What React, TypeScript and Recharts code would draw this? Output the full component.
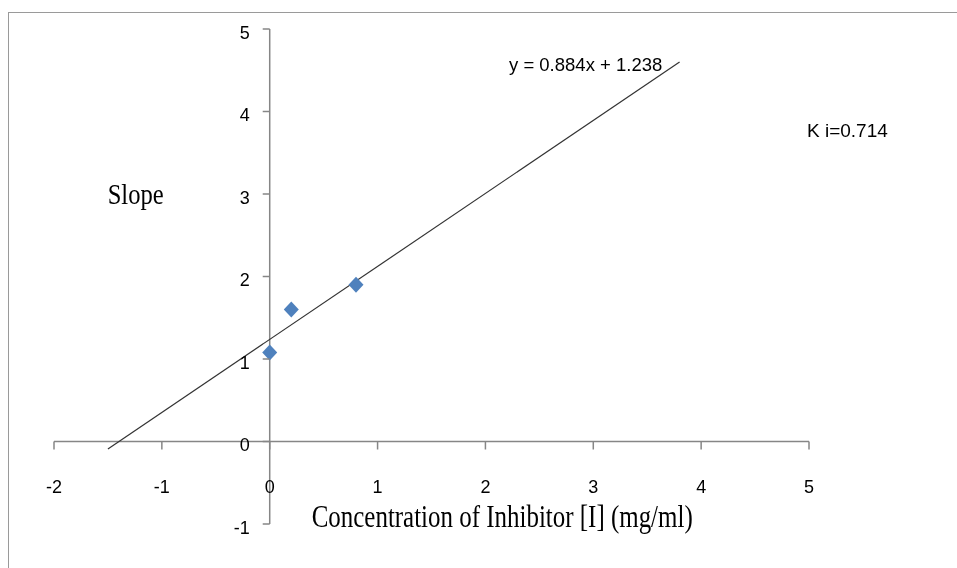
import { ScatterChart, Scatter, XAxis, YAxis, ReferenceLine } from 'recharts';

// axis ticks
const xTicks = [-2, -1, 0, 1, 2, 3, 4, 5];
const yTicks = [-1, 0, 1, 2, 3, 4, 5];

// measured points: inhibitor concentration vs slope
const concentration = [0, 0.2, 0.8];
const slopeValues = [1.08, 1.6, 1.9];

// linear trend line end points
const trendX = [-1.5, 3.8];
const trendY = [-0.09, 4.6];

const equationText = 'y = 0.884x + 1.238';
const kiText = 'K i=0.714';
const yTitle = 'Slope';
const xTitle = 'Concentration of Inhibitor [I] (mg/ml)';

const W = 941;
const H = 552;
const AXIS_W = 30;
const AXIS_H = 30;
// plot area: left 46, top 21, right 801, bottom 516
const M = { top: 21, right: W - 801, bottom: H - 516 - AXIS_H, left: 46 - AXIS_W };
const X_MIN = -2;
const X_MAX = 5;
const Y_MIN = -1;
const Y_MAX = 5;

const plotLeft = M.left + AXIS_W;
const plotTop = M.top;
const plotW = W - plotLeft - M.right;
const plotH = H - M.top - M.bottom - AXIS_H;
// where the axes cross (x = 0, y = 0)
const zeroX = plotLeft + ((0 - X_MIN) / (X_MAX - X_MIN)) * plotW;
const zeroY = plotTop + ((Y_MAX - 0) / (Y_MAX - Y_MIN)) * plotH;

const data = concentration.map((x, i) => ({ x, y: slopeValues[i] }));

const AXIS_COLOR = '#868686';
const TICK_FONT = '"Liberation Sans", Arial, sans-serif';
const NOTE_FONT = '"Liberation Sans", Arial, sans-serif';
const SERIF = '"Liberation Serif", "Times New Roman", serif';

const XTick = (props: any) => {
    const { x, payload } = props;
    return (
        <g>
            <line x1={x} x2={x} y1={zeroY} y2={zeroY + 8} stroke={AXIS_COLOR} strokeWidth={1.5} />
            <text
                x={x}
                y={zeroY + 45}
                textAnchor="middle"
                dominantBaseline="central"
                fontSize={18}
                fontFamily={TICK_FONT}
                fill="#000"
            >
                {payload.value}
            </text>
        </g>
    );
};

const YTick = (props: any) => {
    const { y, payload } = props;
    return (
        <g>
            <line x1={zeroX - 7} x2={zeroX} y1={y} y2={y} stroke={AXIS_COLOR} strokeWidth={1.5} />
            <text
                x={zeroX - 20}
                y={y + 3.5}
                textAnchor="end"
                dominantBaseline="central"
                fontSize={18}
                fontFamily={TICK_FONT}
                fill="#000"
            >
                {payload.value}
            </text>
        </g>
    );
};

const Diamond = (props: any) => {
    const { cx, cy } = props;
    const r = 8;
    return (
        <polygon
            points={`${cx},${cy - r} ${cx + r - 0.5},${cy} ${cx},${cy + r} ${cx - r + 0.5},${cy}`}
            fill="#4F81BD"
        />
    );
};

export default function App() {
    return (
        <div style={{ position: 'relative', width: W, height: H }}>
            {/* outer frame, open on the right and bottom */}
            <div
                style={{
                    position: 'fixed',
                    left: 8,
                    top: 12,
                    right: -20,
                    bottom: -20,
                    borderTop: '1px solid #9a9a9a',
                    borderLeft: '1px solid #9a9a9a',
                    pointerEvents: 'none',
                }}
            />
            <ScatterChart width={W} height={H} margin={M}>
                <XAxis
                    type="number"
                    dataKey="x"
                    domain={[X_MIN, X_MAX]}
                    ticks={xTicks}
                    allowDataOverflow
                    height={AXIS_H}
                    axisLine={false}
                    tickLine={false}
                    interval={0}
                    tick={(p: any) => <XTick {...p} />}
                />
                <YAxis
                    type="number"
                    dataKey="y"
                    domain={[Y_MIN, Y_MAX]}
                    ticks={yTicks}
                    allowDataOverflow
                    width={AXIS_W}
                    axisLine={false}
                    tickLine={false}
                    interval={0}
                    tick={(p: any) => <YTick {...p} />}
                />
                <ReferenceLine y={0} stroke={AXIS_COLOR} strokeWidth={1.5} />
                <ReferenceLine x={0} stroke={AXIS_COLOR} strokeWidth={1.5} />
                <ReferenceLine
                    segment={[
                        { x: trendX[0], y: trendY[0] },
                        { x: trendX[1], y: trendY[1] },
                    ]}
                    stroke="#333"
                    strokeWidth={1.2}
                    ifOverflow="visible"
                />
                <Scatter data={data} shape={<Diamond />} isAnimationActive={false} />
            </ScatterChart>
            <svg
                width={W}
                height={H}
                style={{ position: 'absolute', left: 0, top: 0, pointerEvents: 'none' }}
            >
                <text
                    x={99.7}
                    y={196.3}
                    fontSize={29}
                    fontFamily={SERIF}
                    textLength={56}
                    lengthAdjust="spacingAndGlyphs"
                    fill="#000"
                >
                    {yTitle}
                </text>
                <text
                    x={303.7}
                    y={519}
                    fontSize={31}
                    fontFamily={SERIF}
                    textLength={381}
                    lengthAdjust="spacingAndGlyphs"
                    fill="#000"
                >
                    {xTitle}
                </text>
                <text x={501} y={62.7} fontSize={18.5} fontFamily={NOTE_FONT} fill="#000">
                    {equationText}
                </text>
                <text x={799} y={129.3} fontSize={19} fontFamily={NOTE_FONT} fill="#000">
                    {kiText}
                </text>
            </svg>
        </div>
    );
}
